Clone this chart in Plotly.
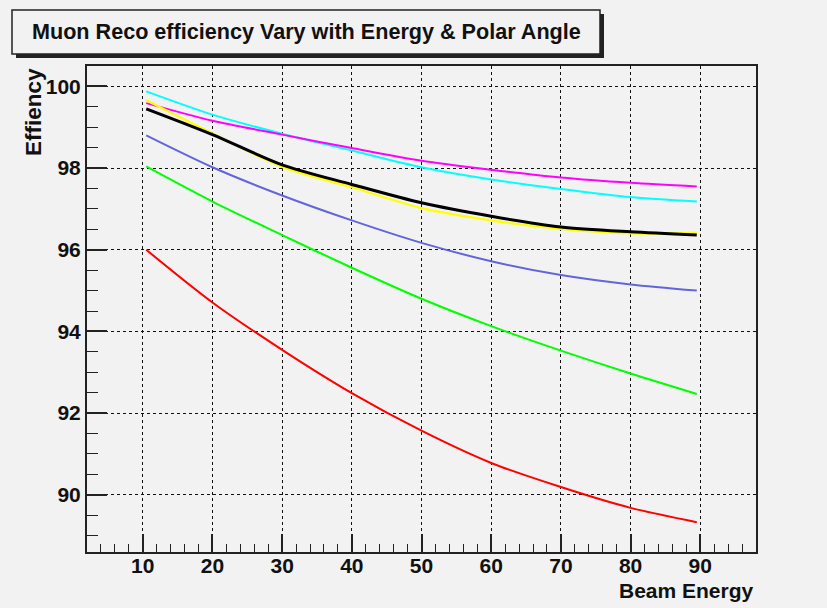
import plotly.graph_objects as go

energy = [10.5, 20, 30, 40, 50, 60, 70, 80, 89.5]

cyan_eff    = [99.88, 99.31, 98.84, 98.43, 98.02, 97.72, 97.49, 97.29, 97.18]
magenta_eff = [99.59, 99.16, 98.82, 98.49, 98.18, 97.96, 97.77, 97.64, 97.55]
yellow_eff  = [99.66, 98.85, 98.03, 97.53, 97.02, 96.72, 96.51, 96.40, 96.42]
black_eff   = [99.45, 98.82, 98.08, 97.60, 97.15, 96.82, 96.56, 96.44, 96.36]
blue_eff    = [98.80, 98.02, 97.33, 96.72, 96.17, 95.72, 95.38, 95.15, 95.00]
green_eff   = [98.04, 97.18, 96.36, 95.56, 94.80, 94.13, 93.53, 92.97, 92.47]
red_eff     = [96.00, 94.71, 93.55, 92.49, 91.57, 90.78, 90.19, 89.68, 89.33]

series = [
    ("cyan", cyan_eff, "#00ffff", 2),
    ("magenta", magenta_eff, "#ff00ff", 2),
    ("yellow", yellow_eff, "#ffff00", 2.2),
    ("black", black_eff, "#000000", 3),
    ("blue", blue_eff, "#6464dc", 2),
    ("green", green_eff, "#00ff00", 2),
    ("red", red_eff, "#ff0000", 2),
]

fig = go.Figure()
for name, vals, col, w in series:
    fig.add_trace(go.Scatter(x=energy, y=vals, mode="lines", name=name,
                             line=dict(color=col, width=w, shape="spline", smoothing=0.8),
                             showlegend=False))

bg = "#f2f2f2"
font_family = "Liberation Sans, Arial, sans-serif"

fig.update_layout(
    width=827, height=608,
    margin=dict(l=87, r=71, t=66, b=56),
    paper_bgcolor=bg, plot_bgcolor=bg,
    showlegend=False,
    xaxis=dict(
        range=[2, 98], tick0=0, dtick=10,
        ticks="inside", ticklen=18, tickwidth=1.5, tickcolor="#222",
        showline=True, linecolor="#222", linewidth=2, mirror=True,
        showgrid=True, gridcolor="#111", griddash="dot", gridwidth=1,
        zeroline=False, ticklabelstandoff=-6,
        tickfont=dict(family=font_family, size=21, color="#111", weight="bold"),
        minor=dict(dtick=2, tick0=0, ticks="inside", ticklen=8, tickwidth=1.2,
                   tickcolor="#222", showgrid=False),
    ),
    yaxis=dict(
        range=[88.6, 100.5], tick0=0, dtick=2,
        ticks="inside", ticklen=20, tickwidth=1.5, tickcolor="#222",
        showline=True, linecolor="#222", linewidth=2, mirror=True,
        showgrid=True, gridcolor="#111", griddash="dot", gridwidth=1,
        zeroline=False,
        tickfont=dict(family=font_family, size=21, color="#111", weight="bold"),
        minor=dict(dtick=0.5, tick0=0, ticks="inside", ticklen=11, tickwidth=1.2,
                   tickcolor="#222", showgrid=False),
    ),
)

W, H = 669, 486
def px(x):
    return (x - 87) / W
def py(y):
    return 1 + (66 - y) / H

# Title box with shadow
fig.add_shape(type="rect", xref="paper", yref="paper",
              x0=px(16), x1=px(604), y0=py(58), y1=py(14),
              fillcolor="#222", line=dict(width=0), layer="above")
fig.add_shape(type="rect", xref="paper", yref="paper",
              x0=px(12), x1=px(600), y0=py(54), y1=py(10),
              fillcolor=bg, line=dict(color="#222", width=1.5), layer="above")

fig.add_annotation(text="Muon Reco efficiency Vary with Energy & Polar Angle",
                   xref="paper", yref="paper", x=px(30), y=py(31),
                   xanchor="left", yanchor="middle", showarrow=False,
                   font=dict(family=font_family, size=21.6, color="#111", weight="bold"))

fig.add_annotation(text="Effiency", xref="paper", yref="paper",
                   x=px(33), y=py(112), textangle=-90,
                   xanchor="center", yanchor="middle", showarrow=False,
                   font=dict(family=font_family, size=22.5, color="#111", weight="bold"))

fig.add_annotation(text="Beam Energy", xref="paper", yref="paper",
                   x=px(756), y=py(590),
                   xanchor="right", yanchor="middle", showarrow=False,
                   font=dict(family=font_family, size=21, color="#111", weight="bold"))

fig.write_html("out.html")
